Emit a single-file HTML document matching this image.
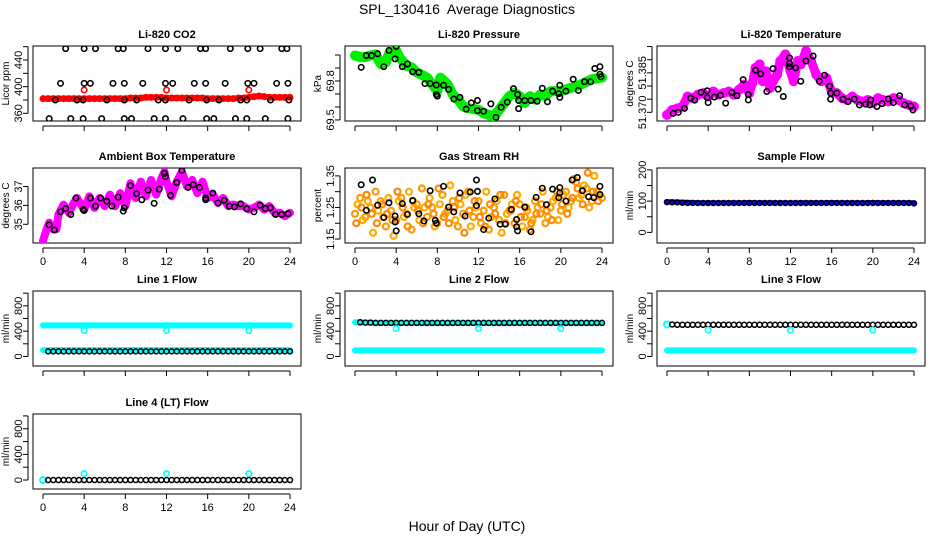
<!DOCTYPE html>
<html><head><meta charset="utf-8"><style>
body{margin:0;background:#fff;width:936px;height:540px;overflow:hidden}
svg{display:block;font-family:"Liberation Sans",sans-serif}
</style></head><body>
<svg id="chart" width="936" height="540" xmlns="http://www.w3.org/2000/svg">
<text x="467" y="14" text-anchor="middle" font-size="14" style="white-space:pre">SPL_130416  Average Diagnostics</text>
<text x="467" y="531" text-anchor="middle" font-size="14">Hour of Day (UTC)</text>
</svg>
<script>
// ===== data =====
const halfHours=[0,0.5,1,1.5,2,2.5,3,3.5,4,4.5,5,5.5,6,6.5,7,7.5,8,8.5,9,9.5,10,10.5,11,11.5,12,12.5,13,13.5,14,14.5,15,15.5,16,16.5,17,17.5,18,18.5,19,19.5,20,20.5,21,21.5,22,22.5,23,23.5,24];
const xTickLabels=[0,4,8,12,16,20,24];
// CO2
const co2RedBand=[382,382,382,382,382,382,382,382,382,382,382,382,382,382,382,382,382,383,383,383,384,384,384,384,383,383,383,383,383,383,383,383,382,382,382,382,382,382,383,383,384,385,386,385,384,384,384,384,384];
const co2RedHours=[4,12,20];
const co2RedValues=[395,395,395];
const co2BlackHours=[2.2,4.0,5.1,7.3,7.8,10.2,11.9,13.1,15.3,15.8,18.2,19.9,21.1,23.2,23.7, 1.7,4.0,4.6,6.8,7.9,9.7,11.9,12.6,14.7,15.8,17.7,19.9,20.5,22.7,23.8, 1.2,3.3,3.9,6.2,7.9,9.1,11.2,11.9,14.2,15.9,17.1,19.2,19.8,22.1,23.9, 0.6,2.7,3.9,5.7,7.9,8.6,10.8,11.9,13.6,15.9,16.6,18.7,19.8,21.6,23.8];
const co2BlackValues=[457,457,457,457,457,457,457,457,457,457,457,457,457,457,457, 405,405,405,405,405,405,405,405,405,405,405,405,405,405,405, 380,380,380,380,380,380,380,380,380,380,380,380,380,380,380, 352,352,352,352,352,352,352,352,352,352,352,352,352,352,352];
// Pressure
const presBandHours=[0,0.5,1,1.5,2,2.5,3,3.3,4,4.3,5,5.5,6,7,7.5,8,8.3,9,9.5,10,10.5,11,12,12.5,13,13.5,14,14.5,15,15.5,16,16.5,17,17.5,18,18.5,19,20,21,22,23,24];
const presBandValues=[69.996,69.983,69.983,69.996,70.004,69.931,69.944,70.009,70.035,69.983,69.918,69.905,69.866,69.826,69.774,69.722,69.826,69.774,69.696,69.657,69.604,69.591,69.578,69.552,69.539,69.526,69.578,69.631,69.683,69.709,69.683,69.631,69.683,69.657,69.696,69.683,69.722,69.722,69.748,69.774,69.813,69.826];
const presBlackHours=[0.6,1.1,1.6,2.2,2.8,3.3,3.9,4.0,4.6,5.1,5.6,6.2,6.8,7.3,7.9,7.9,8.0,8.6,9.1,9.6,10.2,10.8,11.3,11.9,11.9,12.5,13.2,13.7,14.2,14.8,15.4,15.8,15.9,15.9,16.5,17.1,17.7,18.2,18.7,19.2,19.8,19.9,19.9,20.5,21.2,21.7,22.3,22.9,23.3,23.8,23.8,23.9];
const presBlackValues=[69.905,69.996,69.996,70.009,69.910,70.035,69.970,70.066,69.910,69.931,69.871,69.866,69.780,69.780,69.769,69.696,69.683,69.767,69.735,69.661,69.674,69.583,69.631,69.650,69.572,69.567,69.624,69.520,69.598,69.637,69.741,69.696,69.650,69.587,69.650,69.650,69.644,69.744,69.640,69.722,69.702,69.674,69.767,69.722,69.813,69.727,69.794,69.794,69.896,69.910,69.852,69.831];
// Li-820 temperature
const tempBandHours=[0,0.5,1,1.5,2,2.5,3,3.5,4,4.5,5,5.5,6,6.5,7,7.5,8,8.3,8.6,9,9.3,9.6,10,10.3,10.7,11,11.5,12,12.3,12.7,13,13.5,14,14.5,15,15.5,16,16.5,17,17.5,18,18.5,19,19.5,20,20.5,21,21.5,22,22.5,23,23.5,24];
const tempBandValues=[51.3690,51.3709,51.3715,51.3722,51.3760,51.3754,51.3767,51.3773,51.3760,51.3779,51.3767,51.3773,51.3779,51.3767,51.3786,51.3805,51.3773,51.3811,51.3869,51.3882,51.3818,51.3856,51.3792,51.3818,51.3843,51.3895,51.3920,51.3856,51.3818,51.3895,51.3882,51.3933,51.3895,51.3843,51.3818,51.3830,51.3779,51.3773,51.3754,51.3747,51.3760,51.3747,51.3741,51.3747,51.3735,51.3754,51.3747,51.3741,51.3754,51.3747,51.3735,51.3728,51.3722];
const tempBlackHours=[0.6,1.1,1.7,2.3,2.7,3.3,3.9,3.9,4.0,4.6,5.2,5.7,6.3,6.8,7.4,7.9,7.9,8.6,9.1,9.7,10.3,10.8,11.3,11.9,11.9,11.9,12.5,13.0,13.5,14.2,14.8,15.3,15.8,15.9,15.9,16.5,17.1,17.6,18.2,18.7,19.3,19.8,19.7,20.4,20.9,21.5,22.0,22.6,23.1,23.7,23.9];
const tempBlackValues=[51.3696,51.3700,51.3715,51.3754,51.3746,51.3776,51.3782,51.3756,51.3737,51.3758,51.3765,51.3735,51.3776,51.3763,51.3824,51.3767,51.3747,51.3860,51.3846,51.3779,51.3866,51.3788,51.3760,51.3907,51.3886,51.3873,51.3869,51.3818,51.3895,51.3914,51.3818,51.3841,51.3799,51.3773,51.3750,51.3773,51.3750,51.3741,51.3750,51.3728,51.3731,51.3747,51.3728,51.3722,51.3733,51.3751,51.3737,51.3763,51.3728,51.3724,51.3709];
// Ambient box temperature
const ambBandHours=[0,0.3,0.6,1,1.3,1.5,2,2.5,3,3.3,4,4.5,5,5.5,6,6.5,7,7.5,8,8.5,9,9.5,10,10.5,11,11.5,11.8,12,12.5,13,13.5,14,14.5,15,15.5,16,16.5,17,17.5,18,18.5,19,19.5,20,20.5,21,21.5,22,22.5,23,23.5,24];
const ambBandValues=[34.13,34.65,35.09,34.74,34.74,35.52,36.04,35.61,36.13,36.39,35.78,36.48,35.87,36.39,35.96,36.57,35.96,36.65,35.96,37.17,36.39,37.26,36.48,37.35,36.57,37.43,37.78,37.26,36.48,37.26,37.78,37.00,37.35,36.65,37.26,36.39,36.57,36.13,36.39,35.96,36.04,35.96,35.96,35.78,35.87,36.04,35.78,35.96,35.61,35.61,35.43,35.61];
const ambBlackHours=[0.6,1.1,1.7,2.2,2.7,3.2,3.9,4.0,4.6,5.1,5.6,6.2,6.7,7.3,7.8,7.9,8.5,9.1,9.6,10.2,10.8,11.3,11.8,11.9,12.4,13.0,13.5,14.1,14.6,15.2,15.8,15.8,16.5,17.0,17.6,18.1,18.6,19.2,19.8,20.5,21.1,21.6,22.1,22.6,23.2,23.8];
const ambBlackValues=[34.97,34.70,35.66,35.83,35.52,36.39,35.78,35.73,36.39,35.96,36.39,36.22,35.96,36.44,35.70,35.87,37.05,36.62,36.30,36.81,36.11,36.86,37.70,37.52,36.53,37.21,37.85,36.95,37.09,36.95,36.39,36.30,36.65,36.13,36.27,35.96,35.92,36.08,35.82,35.66,36.01,35.83,35.87,35.52,35.52,35.56];
// Gas stream RH
const rhOrangeA=[1.23,1.28,1.22,1.25,1.30,1.27,1.19,1.24,1.21,1.28,1.23,1.18,1.26,1.31,1.22,1.25,1.20,1.29,1.24,1.27,1.19,1.23,1.30,1.22,1.27,1.24,1.18,1.25,1.21,1.29,1.24,1.20,1.26,1.22,1.18,1.27,1.23,1.20,1.25,1.28,1.24,1.30,1.27,1.33,1.29,1.31,1.27,1.30,1.28];
const rhOrangeB=[1.26,1.21,1.27,1.17,1.24,1.22,1.28,1.16,1.27,1.22,1.30,1.25,1.21,1.25,1.28,1.19,1.26,1.23,1.32,1.21,1.26,1.29,1.19,1.25,1.20,1.30,1.22,1.27,1.17,1.23,1.26,1.29,1.19,1.24,1.21,1.25,1.30,1.22,1.27,1.21,1.29,1.25,1.34,1.28,1.32,1.25,1.35,1.29];
const rhOrangeC=[1.20,1.25,1.29,1.23,1.20,1.26,1.23,1.21,1.30,1.25,1.19,1.27,1.24,1.20,1.26,1.23,1.31,1.22,1.20,1.25,1.28,1.17,1.24,1.27,1.22,1.19,1.26,1.23,1.29,1.20,1.24,1.27,1.22,1.25,1.20,1.23,1.26,1.24,1.21,1.30,1.26,1.23,1.28,1.31,1.26,1.36,1.30,1.27];
const rhBlackHours=[0.6,1.1,1.7,2.2,2.8,3.3,3.9,3.9,4.0,4.6,5.1,5.6,6.2,6.7,7.3,7.8,7.9,8.6,9.1,9.6,10.2,10.7,11.2,11.8,11.9,11.8,12.5,13.0,13.6,14.1,14.6,15.2,15.7,15.7,15.8,16.5,17.1,17.6,18.2,18.6,19.2,19.8,19.9,19.9,20.5,21.1,21.6,22.1,22.7,23.2,23.8,23.8];
const rhBlackValues=[1.322,1.241,1.337,1.257,1.218,1.265,1.223,1.204,1.176,1.262,1.228,1.272,1.230,1.207,1.303,1.209,1.200,1.317,1.251,1.236,1.296,1.223,1.299,1.337,1.301,1.256,1.180,1.216,1.277,1.197,1.197,1.244,1.212,1.189,1.176,1.251,1.173,1.282,1.311,1.259,1.308,1.281,1.313,1.296,1.270,1.337,1.345,1.303,1.284,1.281,1.317,1.291];
// Sample flow
const sampleBlue=[98,98,97,97,96,96,95,95,95,95,95,95,95,95,95,95,96,95,95,95,95,95,95,95,95,95,95,95,95,95,95,95,96,95,95,95,95,95,95,95,96,95,95,95,95,95,95,95,95];
const sampleBlack=[97,96,96,95,94,94,94,94,94,94,94,94,94,94,94,94,94,94,94,94,94,94,94,94,94,94,94,94,94,94,94,94,94,94,94,94,94,94,94,94,94,94,94,94,94,94,94,94,93];
// Line flows
const line1CyanHigh=[490,490,490,490,490,490,490,490,490,490,490,490,490,490,490,490,490,490,490,490,490,490,490,490,490,490,490,490,490,490,490,490,490,490,490,490,490,490,490,490,490,490,490,490,490,490,490,490,490];
const line1CyanLow=[100,100,100,100,100,100,100,100,100,100,100,100,100,100,100,100,100,100,100,100,100,100,100,100,100,100,100,100,100,100,100,100,100,100,100,100,100,100,100,100,100,100,100,100,100,100,100,100,100];
const line1Black=[80,80,80,80,80,80,80,80,80,80,80,80,80,80,80,80,80,80,80,80,80,80,80,80,80,80,80,80,80,80,80,80,80,80,80,80,80,80,80,80,80,80,80,80,80,80,80,80,80];
const dipHours=[4,12,20];
const line1Dips=[410,410,410];
const line2Black=[540,540,535,535,530,530,530,530,530,530,530,530,530,530,530,530,530,530,530,530,530,530,530,530,530,530,530,530,530,530,530,530,530,530,530,530,530,530,530,530,530,530,530,530,530,530,530,530,530];
const line2CyanLow=[95,95,95,95,95,95,95,95,95,95,95,95,95,95,95,95,95,95,95,95,95,95,95,95,95,95,95,95,95,95,95,95,95,95,95,95,95,95,95,95,95,95,95,95,95,95,95,95,95];
const line2Dips=[440,440,440];
const line3Black=[505,505,500,500,500,500,500,500,500,500,500,500,500,500,500,500,500,500,500,500,500,500,500,500,500,500,500,500,500,500,500,500,500,500,500,500,500,500,500,500,500,500,500,500,500,500,500,500,500];
const line3CyanLow=[95,95,95,95,95,95,95,95,95,95,95,95,95,95,95,95,95,95,95,95,95,95,95,95,95,95,95,95,95,95,95,95,95,95,95,95,95,95,95,95,95,95,95,95,95,95,95,95,95];
const line3Dips=[415,415,415];
const line4Black=[0,0,0,0,0,0,0,0,0,0,0,0,0,0,0,0,0,0,0,0,0,0,0,0,0,0,0,0,0,0,0,0,0,0,0,0,0,0,0,0,0,0,0,0,0,0,0,0,0];
const line4Spikes=[100,100,100];

// ===== drawing =====
const NS="http://www.w3.org/2000/svg";
const svg=document.getElementById('chart');
const COLX=[33,345,657], ROWY=[46,168,291,414];
function mk(tag,attrs,parent){const e=document.createElementNS(NS,tag);for(const k in attrs)e.setAttribute(k,attrs[k]);(parent||svg).appendChild(e);return e;}

function panel(p){
  const L=COLX[p.col],T=ROWY[p.row],R=L+268,B=T+75;
  const g=mk('g',{});
  
  
  const xs=h=>L+10+h/24*247;
  const ys=v=>B-(v-p.ymin)/(p.ymax-p.ymin)*75;
  const t=mk('text',{x:(L+R)/2,y:T-8,'text-anchor':'middle','font-size':'11','font-weight':'bold'},g);
  t.textContent=p.title;
  
  
  const box=mk('rect',{x:L,y:T,width:268,height:75,fill:'none',stroke:'#000','stroke-width':1},g);
  
  
  const xa=mk('g',{},g);
  
  
  mk('line',{x1:xs(0),x2:xs(24),y1:B+5,y2:B+5,stroke:'#000'},xa);
  xTickLabels.forEach(v=>{
    mk('line',{x1:xs(v),x2:xs(v),y1:B+5,y2:B+10,stroke:'#000'},xa);
    if(p.xlabels){const tl=mk('text',{x:xs(v),y:B+22,'text-anchor':'middle','font-size':'11'},xa);tl.textContent=v;
      
      }
  });
  const ya=mk('g',{},g);
  
  
  const t0=p.yticks[0],t1=p.yticks[p.yticks.length-1];
  mk('line',{x1:L-5,x2:L-5,y1:ys(t0),y2:ys(t1),stroke:'#000'},ya);
  p.yticks.forEach(v=>mk('line',{x1:L-10,x2:L-5,y1:ys(v),y2:ys(v),stroke:'#000'},ya));
  p.ylabels.forEach(v=>{const tl=mk('text',{x:0,y:0,'text-anchor':'middle','font-size':'11',transform:`translate(${L-11},${ys(v)}) rotate(-90)`},ya);tl.textContent=v;
    
    });
  const yl=mk('text',{x:0,y:0,'text-anchor':'middle','font-size':'10',transform:`translate(${L-24},${(T+B)/2}) rotate(-90)`},g);
  yl.textContent=p.ylab;
  
  
  const plot=mk('g',{},g);
  const clip=mk('clipPath',{id:'c'+p.name},g);mk('rect',{x:L,y:T,width:268,height:75},clip);
  plot.setAttribute('clip-path',`url(#c${p.name})`);
  p.draw(plot,xs,ys);
}
function band(g,hours,vals,color,w,name){
  const pl=mk('polyline',{points:hours.map((h,i)=>xs_(h)+','+ys_(vals[i])).join(' '),fill:'none',stroke:color,'stroke-width':w,'stroke-linejoin':'round','stroke-linecap':'round'},g);
  
  
}
let xs_,ys_;
function pts(g,hours,vals,color,name,r,sw){
  hours.forEach((h,i)=>{const c=mk('circle',{cx:xs_(h),cy:ys_(vals[i]),r:r||2.7,fill:'none',stroke:color,'stroke-width':sw||1.6},g);
    
    });
}
function wrap(fn){return (g,xs,ys)=>{xs_=xs;ys_=ys;fn(g);};}
const flowTicks=[0,200,400,600,800,1000],flowLabels=[0,400,800];
const qOffset=halfHours.map(h=>h+0.25);
const eOffset=halfHours.map(h=>h+0.125);

panel({name:'co2',col:0,row:0,title:'Li-820 CO2',ylab:'Licor ppm',ymin:348.5,ymax:461,yticks:[360,380,400,420,440,460],ylabels:[360,400,440],xlabels:false,
  draw:wrap(g=>{band(g,halfHours,co2RedBand,'#ff0000',6,'co2-red-band');pts(g,halfHours,co2RedBand,'#ff0000','co2-red-point');pts(g,co2RedHours,co2RedValues,'#ff0000','co2-red-outlier');pts(g,co2BlackHours,co2BlackValues,'#000','co2-black-point');})});
panel({name:'pressure',col:1,row:0,title:'Li-820 Pressure',ylab:'kPa',ymin:69.492,ymax:70.069,yticks:[69.5,69.6,69.7,69.8,69.9,70.0],ylabels:['69.5','69.8'],xlabels:false,
  draw:wrap(g=>{band(g,presBandHours,presBandValues,'#00ee00',10,'pressure-green-band');pts(g,presBlackHours,presBlackValues,'#000','pressure-black-point');})});
panel({name:'li820-temp',col:2,row:0,title:'Li-820 Temperature',ylab:'degrees C',ymin:51.3667,ymax:51.3952,yticks:[51.370,51.375,51.380,51.385,51.390,51.395],ylabels:['51.370','51.385'],xlabels:false,
  draw:wrap(g=>{band(g,tempBandHours,tempBandValues,'#ff00ff',9,'li820-temp-magenta-band');pts(g,tempBandHours,tempBandValues,'#ff00ff','li820-temp-magenta-point',4,2);pts(g,tempBlackHours,tempBlackValues,'#000','li820-temp-black-point');})});
panel({name:'ambient',col:0,row:1,title:'Ambient Box Temperature',ylab:'degrees C',ymin:34.01,ymax:37.98,yticks:[35,36,37],ylabels:[35,36,37],xlabels:true,
  draw:wrap(g=>{band(g,ambBandHours,ambBandValues,'#ff00ff',8,'ambient-magenta-band');pts(g,ambBlackHours,ambBlackValues,'#000','ambient-black-point');})});
panel({name:'rh',col:1,row:1,title:'Gas Stream RH',ylab:'percent',ymin:1.1375,ymax:1.375,yticks:[1.15,1.20,1.25,1.30,1.35],ylabels:['1.15','1.25','1.35'],xlabels:true,
  draw:wrap(g=>{pts(g,halfHours,rhOrangeA,'#ff9900','rh-orange-point',3,2.2);pts(g,qOffset.slice(0,48),rhOrangeB,'#ffaa00','rh-orange-point',3,2.2);pts(g,eOffset.slice(0,48),rhOrangeC,'#ff8800','rh-orange-point',3,2.2);pts(g,rhBlackHours,rhBlackValues,'#000','rh-black-point');})});
panel({name:'sample-flow',col:2,row:1,title:'Sample Flow',ylab:'ml/min',ymin:-34,ymax:206,yticks:[0,50,100,150,200],ylabels:[0,100,200],xlabels:true,
  draw:wrap(g=>{band(g,halfHours,sampleBlue,'#0000ff',5,'sample-flow-blue-band');pts(g,halfHours,sampleBlack,'#000','sample-flow-black-point',2.5,1.5);})});
panel({name:'line1',col:0,row:2,title:'Line 1 Flow',ylab:'ml/min',ymin:-151,ymax:1034,yticks:flowTicks,ylabels:flowLabels,xlabels:false,
  draw:wrap(g=>{band(g,halfHours,line1CyanHigh,'#00ffff',6,'line1-cyan-high');band(g,halfHours,line1CyanLow,'#00ffff',6,'line1-cyan-low');pts(g,halfHours.slice(1),line1Black.slice(1),'#000','line1-black-point',2.5,1.5);pts(g,dipHours,line1Dips,'#00ffff','line1-cyan-dip');})});
panel({name:'line2',col:1,row:2,title:'Line 2 Flow',ylab:'ml/min',ymin:-151,ymax:1034,yticks:flowTicks,ylabels:flowLabels,xlabels:false,
  draw:wrap(g=>{band(g,halfHours,line2Black,'#00ffff',6,'line2-cyan-high');band(g,halfHours,line2CyanLow,'#00ffff',6,'line2-cyan-low');pts(g,halfHours.slice(1),line2Black.slice(1),'#000','line2-black-point',2.5,1.5);pts(g,dipHours,line2Dips,'#00ffff','line2-cyan-dip');})});
panel({name:'line3',col:2,row:2,title:'Line 3 Flow',ylab:'ml/min',ymin:-151,ymax:1034,yticks:flowTicks,ylabels:flowLabels,xlabels:false,
  draw:wrap(g=>{band(g,halfHours,line3CyanLow,'#00ffff',6,'line3-cyan-low');pts(g,halfHours.slice(0,1),line3Black.slice(0,1),'#00ffff','line3-cyan-start',3,2);pts(g,halfHours.slice(1),line3Black.slice(1),'#000','line3-black-point',2.5,1.5);pts(g,dipHours,line3Dips,'#00ffff','line3-cyan-dip');})});
panel({name:'line4',col:0,row:3,title:'Line 4 (LT) Flow',ylab:'ml/min',ymin:-140,ymax:1030,yticks:flowTicks,ylabels:flowLabels,xlabels:true,
  draw:wrap(g=>{pts(g,halfHours.slice(0,1),line4Black.slice(0,1),'#00ffff','line4-cyan-start',3,2);pts(g,halfHours.slice(1),line4Black.slice(1),'#000','line4-black-point',2.5,1.5);pts(g,dipHours,line4Spikes,'#00ffff','line4-cyan-spike');})});
</script>
</body></html>
